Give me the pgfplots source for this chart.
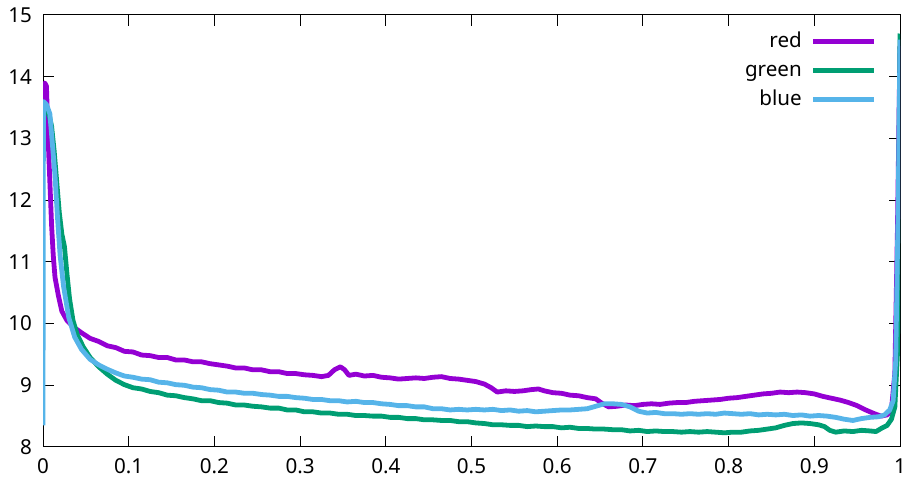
\documentclass[border=0pt]{standalone}
\usepackage{pgfplots}
\pgfplotsset{compat=1.18}
\usepackage{fontspec}
\setmainfont{Noto Sans}
\definecolor{cred}{HTML}{9400D3}
\definecolor{cgreen}{HTML}{009E73}
\definecolor{cblue}{HTML}{56B4E9}
\begin{document}
\begin{tikzpicture}
\begin{axis}[
  scale only axis, width=428.5pt, height=216pt,
  at={(0,0)}, anchor=south west,
  xmin=0, xmax=1, ymin=8, ymax=15,
  xtick={0,0.1,...,1.01}, ytick={8,...,15},
  xticklabels={0,0.1,0.2,0.3,0.4,0.5,0.6,0.7,0.8,0.9,1},
  tick align=inside, major tick length=5.5pt,
  tick style={black, line width=0.5pt},
  axis line style={black, line width=0.5pt},
  /pgf/number format/assume math mode=true,
  tick label style={font=\fontsize{10.3}{12}\selectfont},
  xticklabel style={yshift=-2.5pt},
  yticklabel style={xshift=-2pt},
  clip=true,
  legend plot pos=right,
  legend cell align=right,
  legend image code/.code={\draw[#1] (0pt,0pt) -- (30.5pt,0pt);},
  legend style={draw=none, fill=none, at={(rel axis cs:1,1)}, anchor=north east,
     xshift=-11.5pt, yshift=-8.5pt, inner sep=0pt, row sep=5pt, column sep=4.5pt,
     nodes={text height=7.5pt, text depth=2pt, inner sep=0pt},
     font=\fontsize{10.3}{12}\selectfont},
  every axis plot/.append style={line width=2.4pt, line join=round},
]
\addplot[cred] coordinates {
(0,13.40)(0.002,13.90)(0.004,13.85)(0.006,13.00)(0.008,12.30)(0.010,11.60)(0.012,11.10)(0.014,10.75)
(0.018,10.45)(0.022,10.20)(0.028,10.05)(0.035,9.95)(0.045,9.85)(0.055,9.76)(0.065,9.71)(0.075,9.64)
(0.085,9.61)(0.095,9.55)(0.105,9.54)(0.115,9.49)(0.125,9.48)(0.135,9.45)(0.145,9.45)(0.155,9.41)
(0.165,9.41)(0.175,9.38)(0.185,9.38)(0.195,9.35)(0.205,9.33)(0.215,9.31)(0.225,9.28)(0.235,9.28)
(0.245,9.25)(0.255,9.25)(0.265,9.22)(0.275,9.22)(0.285,9.19)(0.295,9.19)(0.305,9.17)(0.315,9.16)
(0.325,9.14)(0.333,9.16)(0.340,9.25)(0.347,9.30)(0.352,9.25)(0.357,9.16)(0.365,9.18)(0.375,9.15)
(0.385,9.16)(0.395,9.13)(0.405,9.12)(0.415,9.10)(0.425,9.11)(0.435,9.12)(0.445,9.11)(0.455,9.13)
(0.465,9.14)(0.475,9.11)(0.485,9.10)(0.495,9.08)(0.505,9.06)(0.515,9.02)(0.523,8.96)(0.530,8.89)
(0.540,8.91)(0.550,8.90)(0.560,8.91)(0.570,8.93)(0.578,8.94)(0.585,8.91)(0.595,8.88)(0.605,8.87)
(0.615,8.84)(0.625,8.83)(0.635,8.80)(0.645,8.78)(0.652,8.71)(0.660,8.65)(0.670,8.66)(0.680,8.68)
(0.690,8.67)(0.700,8.69)(0.710,8.70)(0.720,8.69)(0.730,8.71)(0.740,8.72)(0.750,8.72)(0.760,8.74)
(0.770,8.75)(0.780,8.76)(0.790,8.77)(0.800,8.79)(0.810,8.80)(0.820,8.82)(0.830,8.84)(0.840,8.86)
(0.850,8.87)(0.860,8.89)(0.870,8.88)(0.880,8.89)(0.890,8.88)(0.900,8.86)(0.910,8.82)(0.920,8.79)
(0.930,8.76)(0.940,8.72)(0.950,8.67)(0.960,8.60)(0.970,8.54)(0.978,8.50)(0.985,8.52)(0.990,8.60)
(0.994,9.20)(0.997,11.50)(1.000,14.50)
};
\addlegendentry{red}
\addplot[cgreen] coordinates {
(0,13.30)(0.003,13.55)(0.006,13.45)(0.010,13.20)(0.013,12.80)(0.016,12.30)(0.019,11.80)(0.022,11.45)
(0.025,11.25)(0.028,10.80)(0.031,10.40)(0.035,10.05)(0.040,9.82)(0.047,9.62)(0.055,9.45)(0.065,9.30)
(0.075,9.18)(0.085,9.08)(0.095,9.01)(0.105,8.96)(0.115,8.94)(0.125,8.90)(0.135,8.88)(0.145,8.84)
(0.155,8.83)(0.165,8.80)(0.175,8.78)(0.185,8.75)(0.195,8.75)(0.205,8.72)(0.215,8.71)(0.225,8.68)
(0.235,8.68)(0.245,8.66)(0.255,8.65)(0.265,8.63)(0.275,8.63)(0.285,8.60)(0.295,8.60)(0.305,8.57)
(0.315,8.57)(0.325,8.55)(0.335,8.55)(0.345,8.53)(0.355,8.53)(0.365,8.51)(0.375,8.51)(0.385,8.50)
(0.395,8.50)(0.405,8.48)(0.415,8.48)(0.425,8.46)(0.435,8.46)(0.445,8.44)(0.455,8.44)(0.465,8.43)
(0.475,8.43)(0.485,8.41)(0.495,8.41)(0.505,8.39)(0.515,8.38)(0.525,8.36)(0.535,8.36)(0.545,8.35)
(0.555,8.35)(0.565,8.33)(0.575,8.34)(0.585,8.33)(0.595,8.33)(0.605,8.31)(0.615,8.32)(0.625,8.30)
(0.635,8.30)(0.645,8.29)(0.655,8.29)(0.665,8.28)(0.675,8.28)(0.685,8.26)(0.695,8.27)(0.705,8.25)
(0.715,8.26)(0.725,8.25)(0.735,8.25)(0.745,8.24)(0.755,8.25)(0.765,8.24)(0.775,8.25)(0.785,8.24)
(0.795,8.23)(0.805,8.24)(0.815,8.24)(0.825,8.26)(0.835,8.27)(0.845,8.29)(0.855,8.31)(0.865,8.35)
(0.875,8.38)(0.885,8.39)(0.895,8.38)(0.905,8.36)(0.912,8.33)(0.918,8.27)(0.925,8.24)(0.935,8.26)
(0.945,8.25)(0.955,8.27)(0.965,8.26)(0.972,8.25)(0.978,8.30)(0.985,8.35)(0.990,8.45)(0.994,8.65)
(0.997,9.50)(1.000,14.70)
};
\addlegendentry{green}
\addplot[cblue] coordinates {
(0,8.35)(0.0005,13.60)(0.004,13.55)(0.008,13.40)(0.011,12.90)(0.014,12.40)(0.017,11.70)(0.020,11.10)
(0.024,10.60)(0.030,10.10)(0.037,9.78)(0.045,9.58)(0.055,9.42)(0.065,9.33)(0.075,9.26)(0.085,9.20)
(0.095,9.15)(0.105,9.13)(0.115,9.10)(0.125,9.09)(0.135,9.05)(0.145,9.04)(0.155,9.01)(0.165,9.00)
(0.175,8.97)(0.185,8.96)(0.195,8.93)(0.205,8.92)(0.215,8.89)(0.225,8.89)(0.235,8.87)(0.245,8.87)
(0.255,8.85)(0.265,8.84)(0.275,8.82)(0.285,8.82)(0.295,8.80)(0.305,8.79)(0.315,8.77)(0.325,8.77)
(0.335,8.75)(0.345,8.75)(0.355,8.73)(0.365,8.74)(0.375,8.72)(0.385,8.72)(0.395,8.70)(0.405,8.69)
(0.415,8.67)(0.425,8.67)(0.435,8.65)(0.445,8.65)(0.455,8.62)(0.465,8.62)(0.475,8.60)(0.485,8.61)
(0.495,8.60)(0.505,8.61)(0.515,8.60)(0.525,8.61)(0.535,8.59)(0.545,8.60)(0.555,8.58)(0.565,8.59)
(0.575,8.57)(0.585,8.58)(0.595,8.59)(0.605,8.60)(0.615,8.60)(0.625,8.61)(0.635,8.62)(0.645,8.66)
(0.655,8.70)(0.665,8.70)(0.675,8.69)(0.685,8.65)(0.695,8.58)(0.705,8.55)(0.715,8.56)(0.725,8.54)
(0.735,8.54)(0.745,8.53)(0.755,8.54)(0.765,8.53)(0.775,8.54)(0.785,8.53)(0.795,8.55)(0.805,8.54)
(0.815,8.53)(0.825,8.54)(0.835,8.52)(0.845,8.53)(0.855,8.52)(0.865,8.53)(0.875,8.51)(0.885,8.52)
(0.895,8.50)(0.905,8.51)(0.915,8.50)(0.925,8.48)(0.935,8.45)(0.945,8.43)(0.955,8.46)(0.965,8.48)
(0.975,8.49)(0.982,8.52)(0.988,8.60)(0.992,8.75)(0.995,9.40)(0.998,12.00)(1.000,14.60)
};
\addlegendentry{blue}
\end{axis}
\pgfresetboundingbox
\path (-21.5pt,-19pt) rectangle (431.5pt,223.5pt);
\end{tikzpicture}
\end{document}
